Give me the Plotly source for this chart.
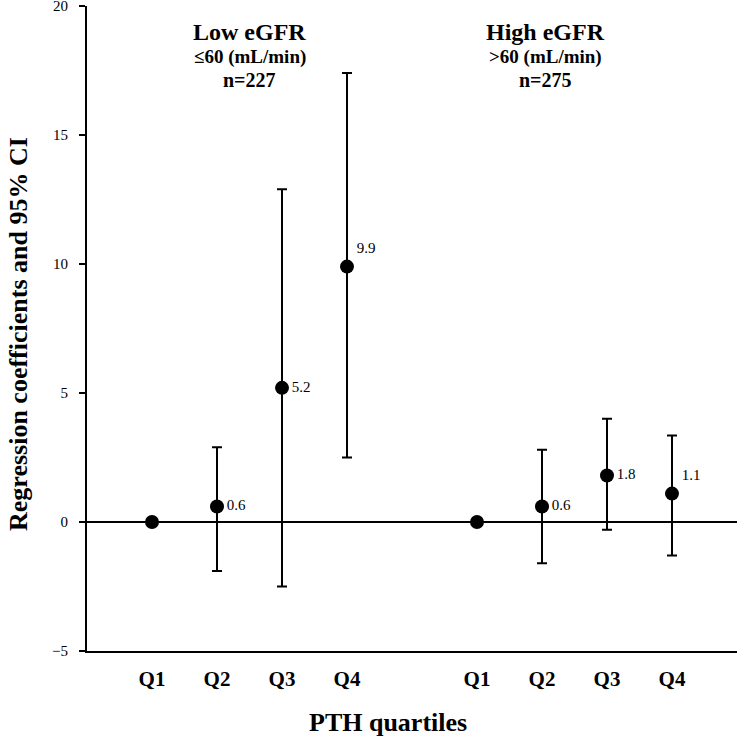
import plotly.graph_objects as go

# ---- data ----
quartiles = ["Q1", "Q2", "Q3", "Q4"]
low_x = [1, 2, 3, 4]
high_x = [6, 7, 8, 9]
low_coef = [0.0, 0.6, 5.2, 9.9]
low_upper = [0.0, 2.9, 12.9, 17.4]
low_lower = [0.0, -1.9, -2.5, 2.5]
high_coef = [0.0, 0.6, 1.8, 1.1]
high_upper = [0.0, 2.8, 4.0, 3.35]
high_lower = [0.0, -1.6, -0.3, -1.3]
low_labels = ["", "0.6", "5.2", "9.9"]
high_labels = ["", "0.6", "1.8", "1.1"]
label_pos_low = ["middle right", "middle right", "middle right", "top right"]
label_pos_high = ["middle right", "middle right", "middle right", "top right"]
y_ticks = [-5, 0, 5, 10, 15, 20]

FONT = "Liberation Serif, Times New Roman, serif"

PLOT_TOP = 6       # page y of the plot top
PLOT_BOTTOM = 651  # page y of the plot bottom
L, R, T, B = 87, 1, 6, 89
W, H = 738, 740

fig = go.Figure()


def add_group(xs, coef, up, lo, labels, pos):
    has_ci = [u != c or l != c for c, u, l in zip(coef, up, lo)]
    fig.add_trace(go.Scatter(
        x=xs, y=coef,
        mode="markers+text",
        text=labels,
        textposition=pos,
        textfont=dict(family=FONT, size=15, color="black"),
        marker=dict(size=14, color="black"),
        error_y=dict(
            type="data", symmetric=False,
            array=[u - c if h else None for c, u, h in zip(coef, up, has_ci)],
            arrayminus=[c - l if h else None for c, l, h in zip(coef, lo, has_ci)],
            color="black", thickness=2, width=5, visible=True,
        ),
        showlegend=False, cliponaxis=False,
    ))


add_group(low_x, low_coef, low_upper, low_lower, low_labels, label_pos_low)
add_group(high_x, high_coef, high_upper, high_lower, high_labels, label_pos_high)


def head(x, y_px, text, size):
    return dict(x=x, y=1, xref="x", yref="paper", yanchor="middle",
                yshift=-(y_px - PLOT_TOP), showarrow=False, text=text,
                font=dict(family=FONT, size=size, color="black"))


fig.update_layout(
    width=W, height=H,
    margin=dict(l=L, r=R, t=T, b=B, autoexpand=False),
    paper_bgcolor="white", plot_bgcolor="white",
    font=dict(family=FONT, color="black"),
    xaxis=dict(
        range=[0, 10],
        tickvals=low_x + high_x,
        ticktext=quartiles + quartiles,
        tickfont=dict(family=FONT, size=21, color="black", weight="bold"),
        showgrid=False, zeroline=False,
        showline=True, linecolor="black", linewidth=2,
        ticks="", ticklabelstandoff=8, automargin=False,
    ),
    yaxis=dict(
        range=[-5, 20],
        tickvals=y_ticks,
        tickfont=dict(family=FONT, size=15, color="black"),
        showgrid=False,
        zeroline=True, zerolinecolor="black", zerolinewidth=2,
        showline=True, linecolor="black", linewidth=2,
        ticks="outside", ticklen=6, tickwidth=1.5, tickcolor="black",
        ticklabelstandoff=8, automargin=False, ticklabeloverflow="allow",
    ),
    annotations=[
        head(2.5, 32, "<b>Low eGFR</b>", 24),
        head(2.5, 57, "<b>≤60 (mL/min)</b>", 19),
        head(2.5, 80, "<b>n=227</b>", 20),
        head(7.05, 32, "<b>High eGFR</b>", 24),
        head(7.05, 57, "<b>>60 (mL/min)</b>", 19),
        head(7.05, 80, "<b>n=275</b>", 20),
        dict(x=(388 - L) / 650, y=0, xref="paper", yref="paper", yanchor="middle",
             yshift=-(722 - PLOT_BOTTOM), showarrow=False,
             text="<b>PTH quartiles</b>", font=dict(family=FONT, size=26, color="black")),
        dict(x=(18 - L) / 650, y=(PLOT_BOTTOM - 334) / (PLOT_BOTTOM - PLOT_TOP),
             xref="paper", yref="paper",
             xanchor="center", yanchor="middle", textangle=-90, showarrow=False,
             text="<b>Regression coefficients and 95% CI</b>",
             font=dict(family=FONT, size=26, color="black")),
    ],
)

fig.write_html(
    "out.html",
    config={"displayModeBar": False},
    post_script="document.body.style.margin='0';"
                "document.documentElement.style.overflow='hidden';",
)
